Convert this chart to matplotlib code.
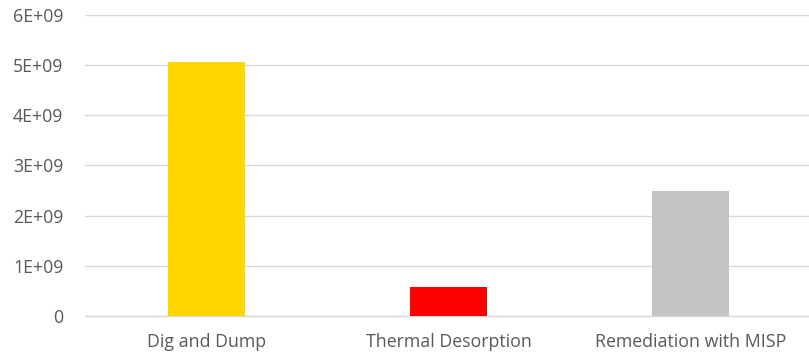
import numpy as np
import matplotlib
matplotlib.use("Agg")
import matplotlib.pyplot as plt

categories = ["Dig and Dump", "Thermal Desorption", "Remediation with MISP"]
values = [5.06e9, 0.58e9, 2.49e9]
colors = ["#FFD700", "#FF0000", "#C4C4C4"]
yticks = [0, 1e9, 2e9, 3e9, 4e9, 5e9, 6e9]
ytick_labels = ["0", "1E+09", "2E+09", "3E+09", "4E+09", "5E+09", "6E+09"]

plt.rcParams['font.family'] = ['Open Sans', 'DejaVu Sans']

fig = plt.figure(figsize=(8.09, 3.56), dpi=100)
ax = fig.add_axes([85 / 809, 1 - 316 / 356, 727 / 809, (316 - 14.7) / 356])

x = np.arange(len(categories))
ax.bar(x, values, width=0.317, color=colors, zorder=3)

ax.set_xlim(-0.5, 2.5)
ax.set_ylim(0, 6e9)
ax.set_yticks(yticks)
ax.set_yticklabels(ytick_labels)
ax.set_xticks(x)
ax.set_xticklabels(categories)

ax.grid(axis='y', color='#D9D9D9', linewidth=1.0, zorder=0)
for s in ['top', 'right', 'left']:
    ax.spines[s].set_visible(False)
ax.spines['bottom'].set_color('#D9D9D9')
ax.spines['bottom'].set_linewidth(1.0)
ax.tick_params(axis='both', length=0, colors='#595959', labelsize=12.8)
ax.tick_params(axis='y', pad=15.5)
ax.tick_params(axis='x', pad=12.5)

fig.savefig("out.png", dpi=100)
